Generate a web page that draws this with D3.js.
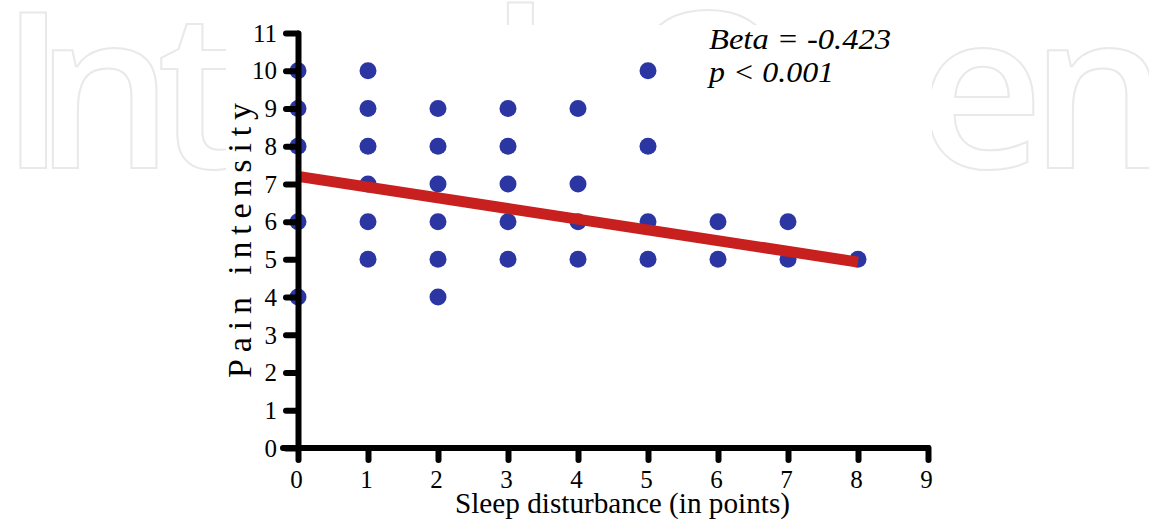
<!DOCTYPE html>
<html>
<head>
<meta charset="utf-8">
<script src="https://cdn.jsdelivr.net/npm/d3@7"></script>
<style>
  html, body { margin: 0; padding: 0; background: #fff; }
  svg { display: block; }
</style>
</head>
<body>
<svg id="chart" width="1149" height="519"></svg>
<script>
// ---- Data ----
const sleepDisturbance = [0,0,0,0,0, 1,1,1,1,1,1, 2,2,2,2,2,2, 3,3,3,3,3, 4,4,4,4, 5,5,5,5, 6,6, 7,7, 8];
const painIntensity    = [10,9,8,6,4, 10,9,8,7,6,5, 9,8,7,6,5,4, 9,8,7,6,5, 9,7,6,5, 10,8,6,5, 6,5, 6,5, 5];
const xTicks = [0,1,2,3,4,5,6,7,8,9];
const yTicks = [0,1,2,3,4,5,6,7,8,9,10,11];
const fitIntercept = 7.2;
const fitSlope = -0.284;
const fitRange = [0, 8];
const statLines = ["Beta = -0.423", "p < 0.001"];
const xTitle = "Sleep disturbance (in points)";
const yTitle = "Pain intensity";
const watermarkLetters = ["I","n","t","h","O","e","n"];

const svg = d3.select("#chart");
const serif = "'Liberation Serif', 'Times New Roman', serif";

// ---- watermark (faint outlined lettering behind the chart) ----
const wmX = [0, 35, 157, 490, 622, 918, 1030];
const wm = svg.append("g")
  .attr("fill", "none").attr("stroke", "#e9e9e9").attr("stroke-width", 2)
  .style("font-family", "'Open Sans', sans-serif").style("font-weight", 600)
  .style("font-size", "218px");
watermarkLetters.forEach((c, i) => {
  wm.append("text").attr("x", wmX[i]).attr("y", 168).text(c);
});
svg.append("rect").attr("x", 226).attr("y", 25).attr("width", 706).attr("height", 494).attr("fill", "#fff");

// ---- scales ----
const x = d3.scaleLinear().domain([0, 9]).range([298, 928]);
const y = d3.scaleLinear().domain([0, 11]).range([448, 33]);

// ---- points ----
const pts = sleepDisturbance.map((s, i) => ({ s, p: painIntensity[i] }));
svg.append("g").selectAll("circle").data(pts).join("circle")
  .attr("cx", d => x(d.s)).attr("cy", d => y(d.p)).attr("r", 8.5)
  .attr("fill", "#2b36a3");

// ---- regression line ----
svg.append("line")
  .attr("x1", x(fitRange[0])).attr("y1", y(fitIntercept + fitSlope * fitRange[0]))
  .attr("x2", x(fitRange[1])).attr("y2", y(fitIntercept + fitSlope * fitRange[1]))
  .attr("stroke", "#c8201f").attr("stroke-width", 11).attr("stroke-linecap", "butt");

// ---- axes ----
function styleAxis(g) {
  g.select(".domain").attr("stroke", "#000").attr("stroke-width", 6).attr("stroke-linecap", "round").attr("stroke-linejoin", "round");
  g.selectAll(".tick line").attr("stroke", "#000").attr("stroke-width", 6).attr("stroke-linecap", "round");
  g.selectAll(".tick text").attr("fill", "#000").style("font-family", serif).style("font-size", "25px");
}
const yAxis = svg.append("g").attr("transform", "translate(298,0)")
  .call(d3.axisLeft(y).tickValues(yTicks).tickFormat(d3.format("d")).tickSize(12).tickSizeOuter(0).tickPadding(9));
styleAxis(yAxis);
yAxis.selectAll(".tick text").attr("dy", "0.33em");

const xAxis = svg.append("g").attr("transform", "translate(0,448)")
  .call(d3.axisBottom(x).tickValues(xTicks).tickFormat(d3.format("d")).tickSize(12).tickSizeOuter(0).tickPadding(10));
styleAxis(xAxis);
xAxis.select(".domain").attr("d", `M${x(0) - 15},0H${x(9)}`);
xAxis.selectAll(".tick text").attr("dx", "-2");

// ---- titles ----
svg.append("text").attr("x", 455).attr("y", 513)
  .attr("textLength", 335).attr("lengthAdjust", "spacingAndGlyphs")
  .style("font-family", serif).style("font-size", "30px").text(xTitle);

svg.append("text").attr("transform", "translate(251,378) rotate(-90)")
  .attr("textLength", 275).attr("lengthAdjust", "spacing")
  .style("font-family", serif).style("font-size", "34px").text(yTitle);

// ---- stats ----
svg.append("text").attr("x", 709).attr("y", 49)
  .attr("textLength", 182).attr("lengthAdjust", "spacingAndGlyphs")
  .style("font-family", serif).style("font-style", "italic").style("font-size", "29px").text(statLines[0]);
svg.append("text").attr("x", 709).attr("y", 82)
  .attr("textLength", 125).attr("lengthAdjust", "spacingAndGlyphs")
  .style("font-family", serif).style("font-style", "italic").style("font-size", "29px").text(statLines[1]);
</script>
</body>
</html>
